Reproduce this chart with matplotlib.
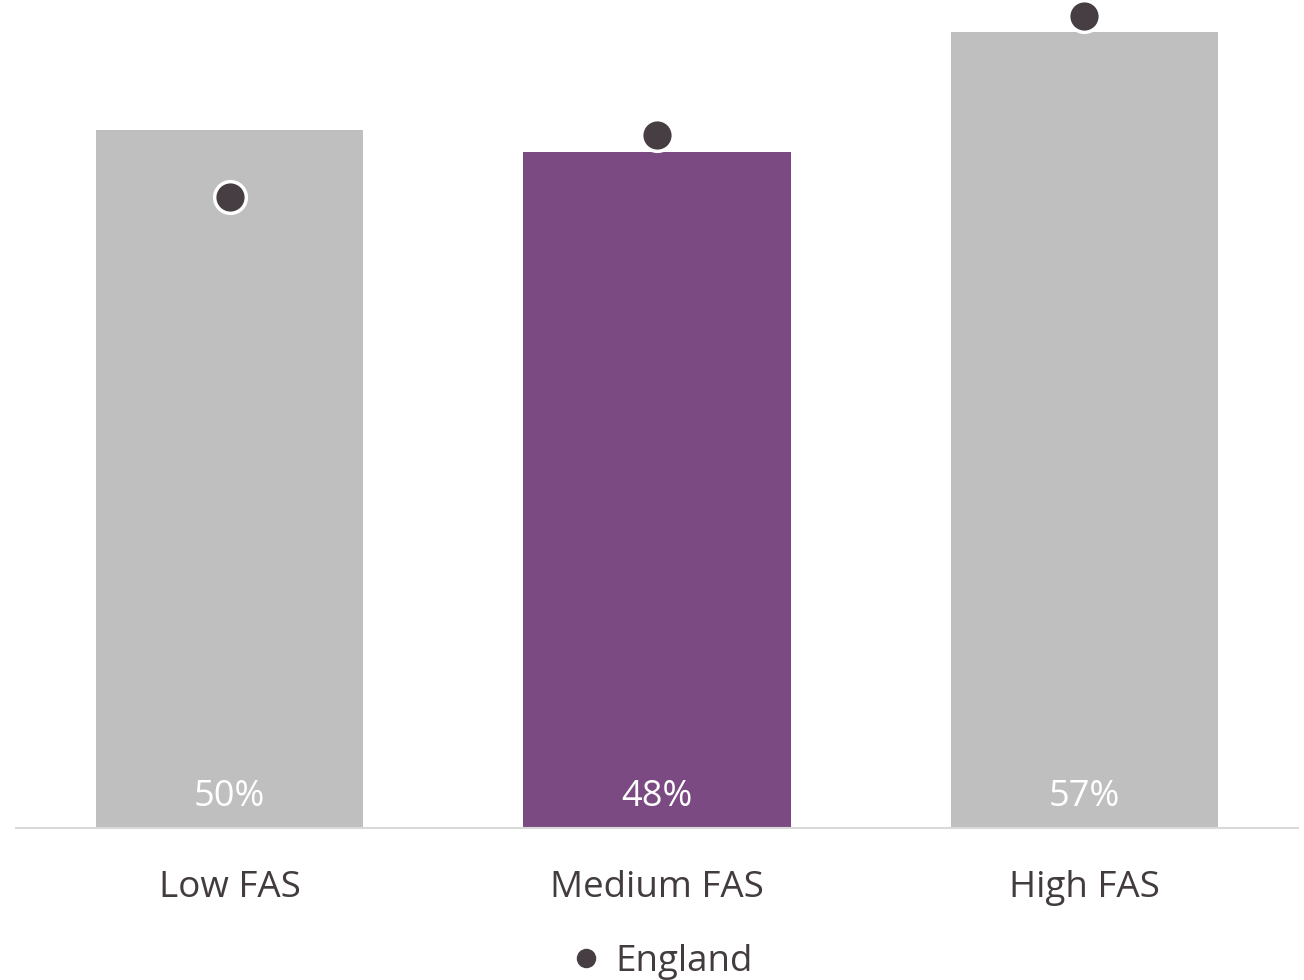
import matplotlib.pyplot as plt
from matplotlib.lines import Line2D

plt.rcParams['font.family'] = ['Open Sans', 'DejaVu Sans']

categories = ['Low FAS', 'Medium FAS', 'High FAS']
values = [50.0, 48.4, 57.0]
england = [45.2, 49.6, 58.1]
bar_colors = ['#BFBFBF', '#7B4A82', '#BFBFBF']

dot_color = '#463E42'
text_color = '#433C3F'

fig = plt.figure(figsize=(13.04, 9.8), dpi=100)
ax = fig.add_axes([16 / 1304, 1 - 828 / 980, 1282 / 1304, 828 / 980])

x = range(len(categories))
ax.bar(x, values, width=0.625, color=bar_colors, zorder=2)
ax.scatter(x, england, s=520, color=dot_color, edgecolors='white',
           linewidths=2.5, zorder=3, clip_on=False)

for i, v in enumerate(values):
    ax.text(i, 2.25, f'{v:.0f}%', ha='center', va='center', color='white',
            fontsize=26, zorder=4)

ax.set_xlim(-0.5, 2.5)
ax.set_ylim(0, 59.27)
ax.set_xticks(list(x))
ax.set_xticklabels(categories, fontsize=26.5, color=text_color)
ax.tick_params(axis='x', length=0, pad=30)
ax.set_yticks([])
for side in ['top', 'right', 'left']:
    ax.spines[side].set_visible(False)
ax.spines['bottom'].set_color('#D9D9D9')
ax.spines['bottom'].set_linewidth(1.5)

handle = Line2D([], [], marker='o', linestyle='none', markersize=13,
                color=dot_color)
fig.legend([handle], ['England'], loc='center', bbox_to_anchor=(0.506, 1 - 962 / 980),
           frameon=False, fontsize=26.5, labelcolor=text_color,
           handletextpad=0.3, handlelength=1.0)

fig.savefig('out.png', dpi=100)
